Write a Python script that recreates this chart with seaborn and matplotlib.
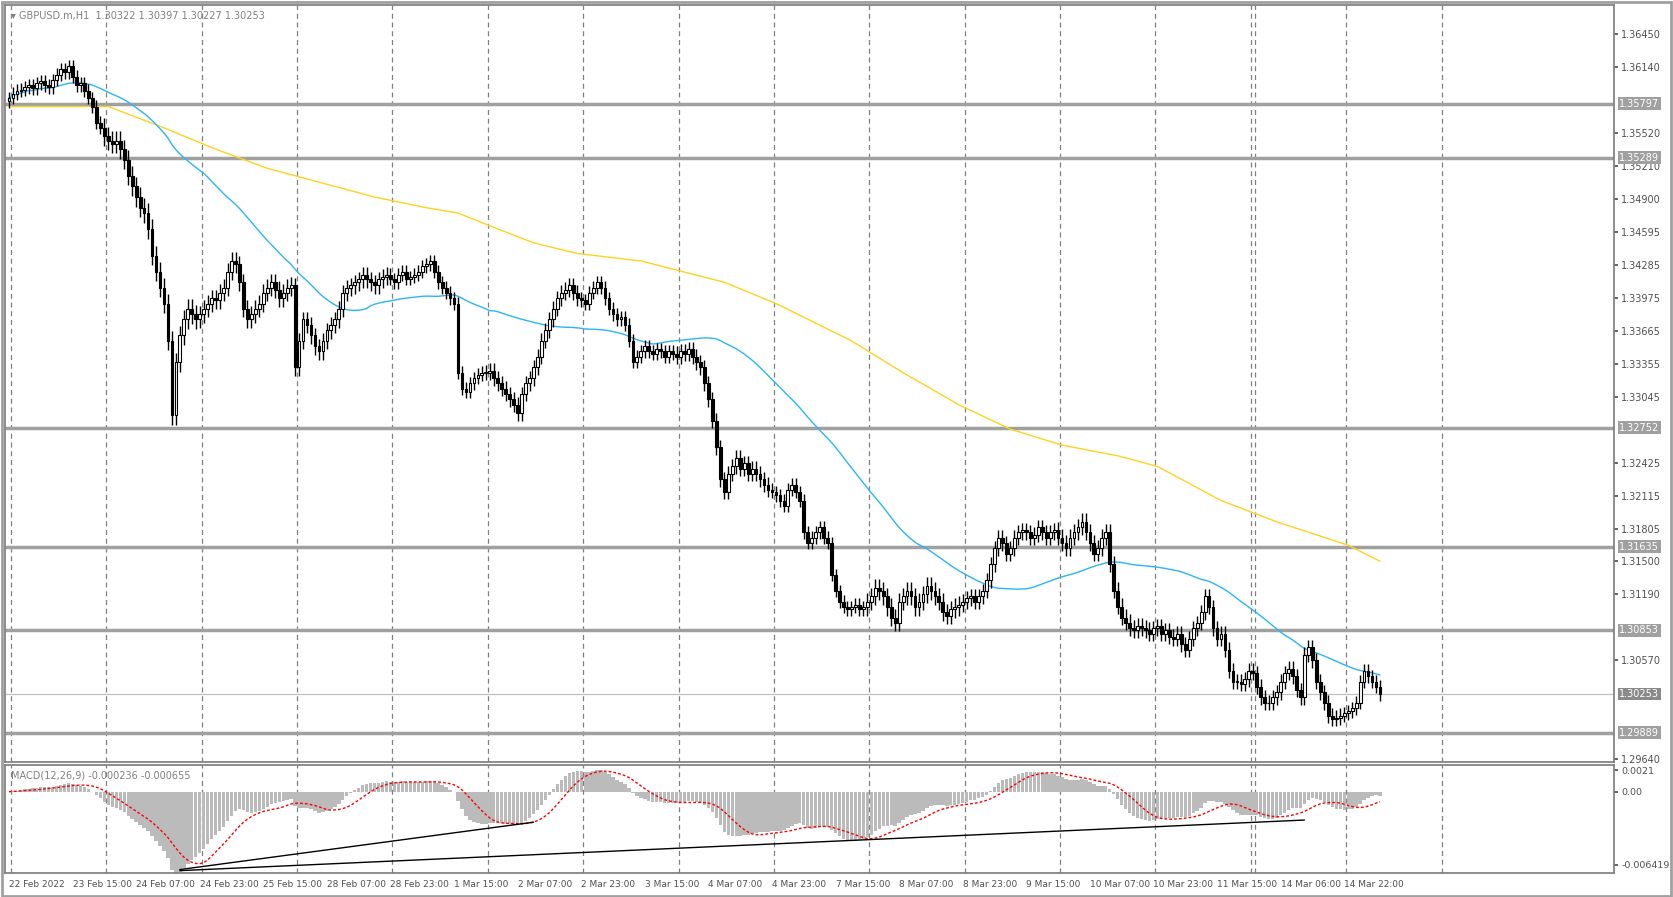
import matplotlib.pyplot as plt
import matplotlib.transforms as mtransforms
import numpy as np
import pandas as pd
import seaborn as sns

sns.set_theme(style="white")
plt.rcParams["font.family"] = ["DejaVu Sans"]

# hourly closes in pips (1 pip = 0.0001), one list per trading day
day_closes = [
    [13585, 13589, 13592, 13593, 13595, 13597, 13594, 13599, 13601, 13597, 13595, 13602,
     13607, 13612, 13609, 13615, 13605, 13597, 13599, 13592, 13585, 13577, 13562, 13557],
    [13549, 13545, 13542, 13545, 13537, 13527, 13512, 13502, 13492, 13482, 13477, 13462,
     13437, 13422, 13407, 13392, 13357, 13287, 13337, 13362, 13377, 13387, 13382, 13377],
    [13382, 13387, 13392, 13397, 13395, 13402, 13407, 13422, 13432, 13429, 13412, 13387,
     13377, 13382, 13387, 13392, 13402, 13407, 13412, 13405, 13397, 13402, 13407, 13409],
    [13332, 13357, 13377, 13372, 13362, 13352, 13347, 13357, 13367, 13372, 13377, 13387,
     13402, 13407, 13409, 13412, 13415, 13419, 13415, 13412, 13409, 13415, 13417, 13419],
    [13415, 13412, 13419, 13422, 13415, 13417, 13419, 13422, 13427, 13429, 13432, 13422,
     13412, 13407, 13402, 13397, 13392, 13327, 13312, 13309, 13317, 13322, 13325, 13327],
    [13327, 13329, 13322, 13317, 13312, 13307, 13302, 13297, 13289, 13307, 13317, 13322,
     13332, 13342, 13357, 13367, 13377, 13387, 13397, 13402, 13405, 13409, 13402, 13397],
    [13395, 13392, 13402, 13407, 13412, 13407, 13397, 13387, 13382, 13377, 13379, 13372,
     13357, 13337, 13342, 13347, 13352, 13347, 13345, 13349, 13347, 13342, 13347, 13345],
    [13342, 13347, 13345, 13349, 13342, 13337, 13332, 13317, 13302, 13282, 13257, 13227,
     13215, 13232, 13239, 13247, 13237, 13242, 13232, 13237, 13232, 13227, 13222, 13217],
    [13215, 13212, 13207, 13202, 13217, 13222, 13215, 13207, 13177, 13167, 13172, 13177,
     13182, 13172, 13167, 13137, 13122, 13112, 13107, 13105, 13107, 13109, 13105, 13107],
    [13112, 13117, 13125, 13122, 13117, 13107, 13097, 13092, 13112, 13117, 13122, 13117,
     13107, 13112, 13119, 13127, 13122, 13117, 13112, 13102, 13099, 13105, 13107, 13109],
    [13112, 13115, 13117, 13112, 13117, 13122, 13132, 13147, 13162, 13172, 13167, 13157,
     13162, 13172, 13177, 13179, 13177, 13172, 13175, 13182, 13177, 13172, 13177, 13179],
    [13172, 13167, 13162, 13172, 13177, 13182, 13187, 13177, 13167, 13157, 13162, 13172,
     13177, 13147, 13122, 13107, 13097, 13092, 13087, 13085, 13089, 13087, 13085, 13082],
    [13087, 13089, 13082, 13085, 13079, 13077, 13082, 13072, 13067, 13077, 13087, 13092,
     13102, 13117, 13107, 13087, 13077, 13082, 13067, 13047, 13037, 13037, 13035, 13039],
    [13047, 13045, 13032, 13022, 13017, 13017, 13022, 13027, 13037, 13045, 13049, 13042,
     13029, 13022, 13062, 13069, 13057, 13037, 13027, 13017, 13005, 13002, 13003, 13005],
    [13007, 13009, 13012, 13017, 13037, 13047, 13042, 13037, 13032, 13025],
]
# typical wick length per day, pips
wick_up = [6, 9, 8, 7, 6, 7, 6, 7, 6, 8, 7, 8, 7, 7, 6]
wick_dn = [6, 9, 8, 8, 6, 7, 6, 7, 6, 8, 7, 7, 7, 7, 6]

# 200-period MA read at a few bars (pips)
slow_ma_bars = [0, 25, 39, 52, 65, 79, 92, 105, 113, 121, 132, 143, 159, 180, 193, 212,
                225, 239, 252, 265, 279, 289, 305, 319, 337, 345]
slow_ma_pips = [13577, 13577, 13557, 13537, 13519, 13505, 13492, 13482, 13477, 13465,
                13449, 13439, 13432, 13412, 13392, 13357, 13327, 13297, 13274, 13259,
                13249, 13239, 13207, 13187, 13165, 13150]

levels = [1.35797, 1.35289, 1.32752, 1.31635, 1.30853, 1.29889]
last_price = 1.30253
price_ticks = [1.36450, 1.36140, 1.35520, 1.35210, 1.34900, 1.34595, 1.34285, 1.33975,
               1.33665, 1.33355, 1.33045, 1.32425, 1.32115, 1.31805, 1.31500, 1.31190,
               1.30570, 1.29640]
macd_tick_labels = ["0.0021", "0.00", "-0.006419"]
time_labels = ["22 Feb 2022", "23 Feb 15:00", "24 Feb 07:00", "24 Feb 23:00", "25 Feb 15:00",
               "28 Feb 07:00", "28 Feb 23:00", "1 Mar 15:00", "2 Mar 07:00", "2 Mar 23:00",
               "3 Mar 15:00", "4 Mar 07:00", "4 Mar 23:00", "7 Mar 15:00", "8 Mar 07:00",
               "8 Mar 23:00", "9 Mar 15:00", "10 Mar 07:00", "10 Mar 23:00", "11 Mar 15:00",
               "14 Mar 06:00", "14 Mar 22:00"]
# hand-drawn lines on MACD pane: (bar, height as fraction of the pane)
trend_lines = [[(43, 0.03), (132, 0.47)], [(43, 0.02), (326, 0.49)]]

rows = []
prev = None
for d, closes in enumerate(day_closes):
    for c in closes:
        c = c / 1e4
        o = prev if prev is not None else c - 0.0003
        rows.append({"open": o, "close": c,
                     "high": max(o, c) + wick_up[d] / 1e4,
                     "low": min(o, c) - wick_dn[d] / 1e4})
        prev = c
df = pd.DataFrame(rows)
df["bar"] = np.arange(len(df))
df["fast_ma"] = df["close"].rolling(50, min_periods=1).mean()
ema12 = df["close"].ewm(span=12, adjust=False).mean()
ema26 = df["close"].ewm(span=26, adjust=False).mean()
df["macd"] = ema12 - ema26
df["signal"] = df["macd"].rolling(9, min_periods=1).mean()

fig = plt.figure(figsize=(16.73, 8.97), dpi=100)
ax = fig.add_axes([0.003, 0.150, 0.962, 0.844])
mx = fig.add_axes([0.003, 0.027, 0.962, 0.120], sharex=ax)

grey = "#A0A0A0"
for a in (ax, mx):
    for s in a.spines.values():
        s.set_color("#808080")
    for b in list(range(1, 362, 24)) + [314]:
        a.axvline(b - 0.5, color="#808080", ls=(0, (4, 3)), lw=0.9, zorder=0)

for lv in levels:
    ax.axhline(lv, color=grey, lw=2.5, zorder=1)
    ax.text(1.003, lv, f"{lv:.5f}", transform=ax.get_yaxis_transform(), va="center",
            ha="left", fontsize=7, color="white",
            bbox=dict(boxstyle="square,pad=0.15", fc=grey, ec="none"))
ax.axhline(last_price, color="#C0C0C0", lw=0.9, zorder=1)
ax.text(1.003, last_price, f"{last_price:.5f}", transform=ax.get_yaxis_transform(),
        va="center", ha="left", fontsize=7, color="white",
        bbox=dict(boxstyle="square,pad=0.15", fc="#8A8A8A", ec="none"))

slow = pd.DataFrame({"bar": slow_ma_bars, "ma": np.array(slow_ma_pips) / 1e4})
sns.lineplot(data=slow, x="bar", y="ma", color="#FFD21F", lw=1.0, ax=ax, zorder=2)
sns.lineplot(data=df, x="bar", y="fast_ma", color="#29B6F6", lw=1.0, ax=ax, zorder=2)

up = df["close"] >= df["open"]
ax.vlines(df["bar"], df["low"], df["high"], color="black", lw=1.0, zorder=3)
ax.bar(df["bar"][up], (df["close"] - df["open"])[up].clip(lower=0.00003),
       bottom=df["open"][up], width=0.7, color="white", edgecolor="black", lw=0.8, zorder=4)
ax.bar(df["bar"][~up], (df["open"] - df["close"])[~up],
       bottom=df["close"][~up], width=0.7, color="black", edgecolor="black", lw=0.8, zorder=4)

ax.set_xlim(-1, 404)
ax.set_ylim(1.29610, 1.36720)
ax.yaxis.tick_right()
ax.set_yticks(price_ticks)
ax.set_yticklabels([f"{t:.5f}" for t in price_ticks])
ax.tick_params(axis="y", labelsize=7, colors="#505050", length=3, pad=2)
ax.tick_params(axis="x", bottom=False, labelbottom=False)
ax.set_xlabel("")
ax.set_ylabel("")
ax.text(0.004, 0.992, "\u25be GBPUSD.m,H1  1.30322 1.30397 1.30227 1.30253",
        transform=ax.transAxes, fontsize=7, color="#808080", va="top")

# MACD pane: main line as grey histogram, signal as red dotted line
mx.bar(df["bar"], df["macd"], width=0.85, color="#BBBBBB", edgecolor="none", zorder=2)
sns.lineplot(data=df, x="bar", y="signal", color="red", lw=1.0, ls=(0, (2, 1.5)),
             ax=mx, zorder=3)
lo = df["macd"].min()
hi = lo * -0.0021 / 0.006419
mx.set_ylim(lo, hi)
trans = mtransforms.blended_transform_factory(mx.transData, mx.transAxes)
for (x0, y0), (x1, y1) in trend_lines:
    mx.plot([x0, x1], [y0, y1], color="black", lw=1.0, zorder=4, transform=trans)
mx.yaxis.tick_right()
mx.set_yticks([hi * 0.8, 0.0, lo * 0.9])
mx.set_yticklabels(macd_tick_labels)
mx.tick_params(axis="y", labelsize=6.8, colors="#505050", length=3, pad=2)
mx.set_xticks(np.arange(len(time_labels)) * 16)
mx.set_xticklabels(time_labels, ha="left")
mx.tick_params(axis="x", labelsize=6.5, colors="#505050", length=3, pad=2)
mx.set_xlabel("")
mx.set_ylabel("")
mx.text(0.004, 0.95, "MACD(12,26,9) -0.000236 -0.000655", transform=mx.transAxes,
        fontsize=7, color="#808080", va="top")

fig.patches.append(plt.Rectangle((0.001, 0.001), 0.998, 0.997, transform=fig.transFigure,
                                 fill=False, ec="#A0A0A0", lw=2))
fig.savefig("out.png", dpi=100)
